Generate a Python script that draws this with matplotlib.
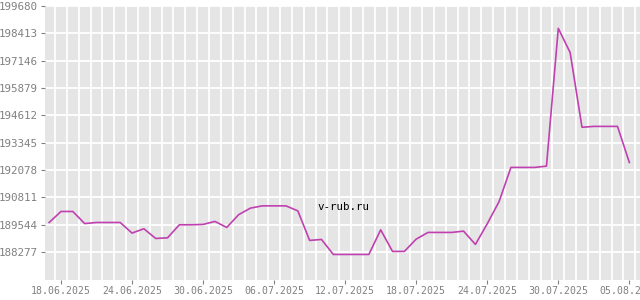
import matplotlib
matplotlib.use("Agg")
import matplotlib.pyplot as plt
import matplotlib.dates as mdates
import numpy as np
import datetime as dt

# daily rate, 17.06.2025 .. 05.08.2025
start_date = dt.date(2025, 6, 17)
values = [
    189650, 190160, 190160, 189600, 189650, 189650, 189650, 189160, 189360, 188910,
    188940, 189544, 189544, 189560, 189700, 189420, 190010, 190315, 190420, 190420,
    190420, 190190, 188820, 188865, 188170, 188170, 188170, 188170, 189310, 188310,
    188310, 188880, 189190, 189190, 189190, 189250, 188635, 189590, 190620, 192200,
    192200, 192200, 192260, 198640, 197520, 194060, 194100, 194100, 194100, 192430,
]
dates = [start_date + dt.timedelta(days=i) for i in range(len(values))]

y_ticks = [188277, 189544, 190811, 192078, 193345, 194612, 195879, 197146, 198413, 199680]
x_tick_dates = [dt.date(2025, 6, 18) + dt.timedelta(days=6 * i) for i in range(9)]

grey = "#808080"
mono = "DejaVu Sans Mono"

fig = plt.figure(figsize=(6.4, 3.0), dpi=100)
ax = fig.add_axes([45 / 640, 20.5 / 300, 1 - 45 / 640, (279.3 - 5.7) / 300])
ax.set_facecolor("#e5e5e5")

x = mdates.date2num(dates)
ax.plot(x, values, color="#c040b0", lw=1.2, zorder=3)

x0 = mdates.date2num(dt.date(2025, 6, 18))
ax.set_xlim(x0 - 1.35, x0 + 48.9)
ax.set_ylim(187010, 199680)

# vertical grid between days
grid_x = np.arange(x0 - 1.5, x0 + 50, 1.0)
for gx in grid_x:
    ax.axvline(gx, color="white", lw=1.3, zorder=1)
for gy in y_ticks:
    ax.axhline(gy, color="white", lw=1.3, zorder=1)

ax.set_yticks(y_ticks)
ax.set_yticklabels([str(v) for v in y_ticks], fontfamily=mono, fontsize=7.8, color=grey)
ax.set_xticks(mdates.date2num(x_tick_dates))
ax.set_xticklabels([d.strftime("%d.%m.%Y") for d in x_tick_dates], fontfamily=mono, fontsize=7.1, color=grey)
ax.tick_params(axis="both", colors=grey, length=3, width=0.8, pad=2)
for s in ax.spines.values():
    s.set_visible(False)

fig.text(343 / 640, 1 - 207 / 300, "v-rub.ru", fontfamily=mono, fontsize=7.8,
         color="black", ha="center", va="center")

fig.savefig("out.png", dpi=100)
